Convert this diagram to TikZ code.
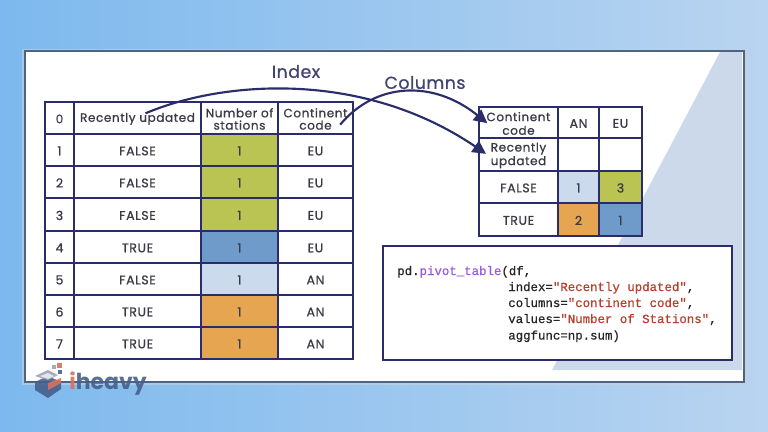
\documentclass[tikz,border=0pt]{standalone}
\usepackage{fontspec}
\setmainfont{Poppins}
\setmonofont{Liberation Mono}
\usetikzlibrary{arrows.meta}
\definecolor{navy}{HTML}{2B2D6B}
\definecolor{inkc}{HTML}{3A3A46}
\definecolor{lime}{HTML}{B9C453}
\definecolor{midblue}{HTML}{6F9BCB}
\definecolor{paleblue}{HTML}{CBDAED}
\definecolor{amber}{HTML}{E5A551}
\definecolor{tri}{HTML}{CBD9EA}
\definecolor{shadowc}{HTML}{4D6483}
\definecolor{purp}{HTML}{9A5BE0}
\definecolor{redc}{HTML}{B8402F}
\definecolor{labelc}{HTML}{3F4470}
\definecolor{bgl}{HTML}{7DB9EE}
\definecolor{bgr}{HTML}{B9D4F0}
\definecolor{logoa}{HTML}{46608C}
\definecolor{logob}{HTML}{D9705A}
\definecolor{logoc}{HTML}{9AA5B5}
\tikzset{
 cellst/.style={draw=navy,line width=1.5pt,inner sep=0pt,anchor=center},
 bodytext/.style={inner sep=0pt,align=center,text=inkc,font=\fontsize{9.4}{10}\selectfont\addfontfeature{FakeBold=0.8,LetterSpace=5}},
 headtext/.style={bodytext,font=\fontsize{9}{9.2}\selectfont\addfontfeature{FakeBold=0.8,LetterSpace=5}},
 pivottext/.style={bodytext,font=\fontsize{9}{10.2}\selectfont\addfontfeature{FakeBold=0.8,LetterSpace=5}},
 flow/.style={draw=navy,line width=1.6pt,-{Triangle[length=10pt,width=10pt]}},
 titlest/.style={text=labelc,font=\fontsize{13}{15}\selectfont\addfontfeature{FakeBold=0.8,LetterSpace=3},inner sep=0pt},
 codeline/.style={anchor=base west,inner sep=0pt,font=\fontsize{9.3}{10}\ttfamily\addfontfeature{FakeBold=0.6},text=black!85}
}
% text style, x0, y0, x1, y1, name, fill, text
\newcommand{\gc}[8][bodytext]{%
 \pgfmathsetmacro{\cw}{(#4-#2)*0.75}\pgfmathsetmacro{\ch}{(#5-#3)*0.75}%
 \node[cellst,fill=#7,minimum width=\cw pt,minimum height=\ch pt] (#6) at ({(#2+#4)/2},{-(#3+#5)/2}) {};
 \node[#1] (#6t) at ([yshift=-0.7pt]#6.center) {#8};}
\begin{document}
\begin{tikzpicture}[x=0.75pt,y=0.75pt]
\useasboundingbox (0,0) rectangle (768,-432);
\shade[left color=bgl,right color=bgr] (0,0) rectangle (768,-432);
% card
\fill[shadowc!30,opacity=0.6] (22,-48.5) rectangle (747,-384.5);
\fill[shadowc] (24,-50) rectangle (744.5,-382.5);
\fill[white] (25.5,-52) rectangle (743,-381);
\fill[tri] (720,-52) -- (742,-52) -- (742,-370) -- (552,-370) -- cycle;
% left table
\gc[headtext]{45}{102}{74}{134}{h0}{white}{0}
\gc[headtext]{74}{102}{201}{134}{h1}{white}{Recently updated}
\gc[headtext]{201}{102}{278}{134}{h2}{white}{Number of\\stations}
\gc[headtext]{278}{102}{353}{134}{h3}{white}{Continent\\code}
\gc{45}{134}{74}{166}{i1}{white}{1}
\gc{74}{134}{201}{166}{r1}{white}{FALSE}
\gc{201}{134}{278}{166}{n1}{lime}{1}
\gc{278}{134}{353}{166}{c1}{white}{EU}
\gc{45}{166}{74}{198}{i2}{white}{2}
\gc{74}{166}{201}{198}{r2}{white}{FALSE}
\gc{201}{166}{278}{198}{n2}{lime}{1}
\gc{278}{166}{353}{198}{c2}{white}{EU}
\gc{45}{198}{74}{231}{i3}{white}{3}
\gc{74}{198}{201}{231}{r3}{white}{FALSE}
\gc{201}{198}{278}{231}{n3}{lime}{1}
\gc{278}{198}{353}{231}{c3}{white}{EU}
\gc{45}{231}{74}{263}{i4}{white}{4}
\gc{74}{231}{201}{263}{r4}{white}{TRUE}
\gc{201}{231}{278}{263}{n4}{midblue}{1}
\gc{278}{231}{353}{263}{c4}{white}{EU}
\gc{45}{263}{74}{295}{i5}{white}{5}
\gc{74}{263}{201}{295}{r5}{white}{FALSE}
\gc{201}{263}{278}{295}{n5}{paleblue}{1}
\gc{278}{263}{353}{295}{c5}{white}{AN}
\gc{45}{295}{74}{327}{i6}{white}{6}
\gc{74}{295}{201}{327}{r6}{white}{TRUE}
\gc{201}{295}{278}{327}{n6}{amber}{1}
\gc{278}{295}{353}{327}{c6}{white}{AN}
\gc{45}{327}{74}{359}{i7}{white}{7}
\gc{74}{327}{201}{359}{r7}{white}{TRUE}
\gc{201}{327}{278}{359}{n7}{amber}{1}
\gc{278}{327}{353}{359}{c7}{white}{AN}
% right table
\gc[pivottext]{479}{107}{558}{138}{pc}{white}{Continent\\code}
\gc{558}{107}{599}{138}{pan}{white}{AN}
\gc{599}{107}{642}{138}{peu}{white}{EU}
\gc[pivottext]{479}{138}{558}{171}{pr}{white}{Recently\\updated}
\gc{558}{138}{599}{171}{pb1}{white}{}
\gc{599}{138}{642}{171}{pb2}{white}{}
\gc{479}{171}{558}{203}{pf}{white}{FALSE}
\gc{558}{171}{599}{203}{pf1}{paleblue}{1}
\gc{599}{171}{642}{203}{pf2}{lime}{3}
\gc{479}{203}{558}{236}{pt}{white}{TRUE}
\gc{558}{203}{599}{236}{pt1}{amber}{2}
\gc{599}{203}{642}{236}{pt2}{midblue}{1}
% labels
\node[titlest] (lidx) at (296,-71.5) {Index};
\node[titlest] (lcol) at (425,-82.5) {Columns};
% connectors
\coordinate (sr) at ([xshift=6pt,yshift=3.5pt]h1.center);
\coordinate (sc) at ([xshift=18.5pt,yshift=-5pt]h3.center);
\coordinate (tr) at ([xshift=6pt,yshift=0.5pt]pr.west);
\coordinate (tc) at ([xshift=7pt,yshift=-0.5pt]pc.west);
\draw[flow] (sr) .. controls +(75,32) and +(-125,85) .. (tr);
\draw[flow] (sc) .. controls +(35,42) and +(-55,44) .. (tc);
% code box
\node[draw=navy,fill=white,line width=1.5pt,minimum width={349*0.75pt},minimum height={114*0.75pt},inner sep=0pt] (codebox) at (557.5,-303) {};
\node[codeline] (l1) at (397,-275) {pd.\textcolor{purp}{pivot\_table}(df,};
\node[codeline] (l2) at (508,-291) {index=\textcolor{redc}{"Recently updated"},};
\node[codeline] (l3) at (508,-307) {columns=\textcolor{redc}{"continent code"},};
\node[codeline] (l4) at (508,-323) {values=\textcolor{redc}{"Number of Stations"},};
\node[codeline] (l5) at (508,-339.5) {aggfunc=np.sum)};
% watermark logo
\begin{scope}[opacity=0.9]
\fill[logoa] (35,-382) -- (48,-376) -- (61,-382) -- (61,-389) -- (48,-398) -- (35,-390) -- cycle;
\fill[logob] (48,-383) -- (61,-378) -- (61,-383) -- (48,-390) -- cycle;
\fill[logoc] (35,-376) -- (48,-370) -- (58,-375) -- (48,-380) -- cycle;
\fill[white!80!logoc] (40,-376) -- (48,-373) -- (54,-376) -- (48,-379) -- cycle;
\fill[logob] (57,-363) rectangle (62,-368);
\fill[logoc] (52,-365) rectangle (56,-369);
\fill[logoa] (58,-370) rectangle (62,-374);
\end{scope}
\node[anchor=base west,inner sep=0pt,font=\fontsize{16.5}{18}\bfseries\selectfont,text=logoa,opacity=0.9] (logo) at (69,-389) {\textcolor{logob}{i}heavy};
\end{tikzpicture}
\end{document}
